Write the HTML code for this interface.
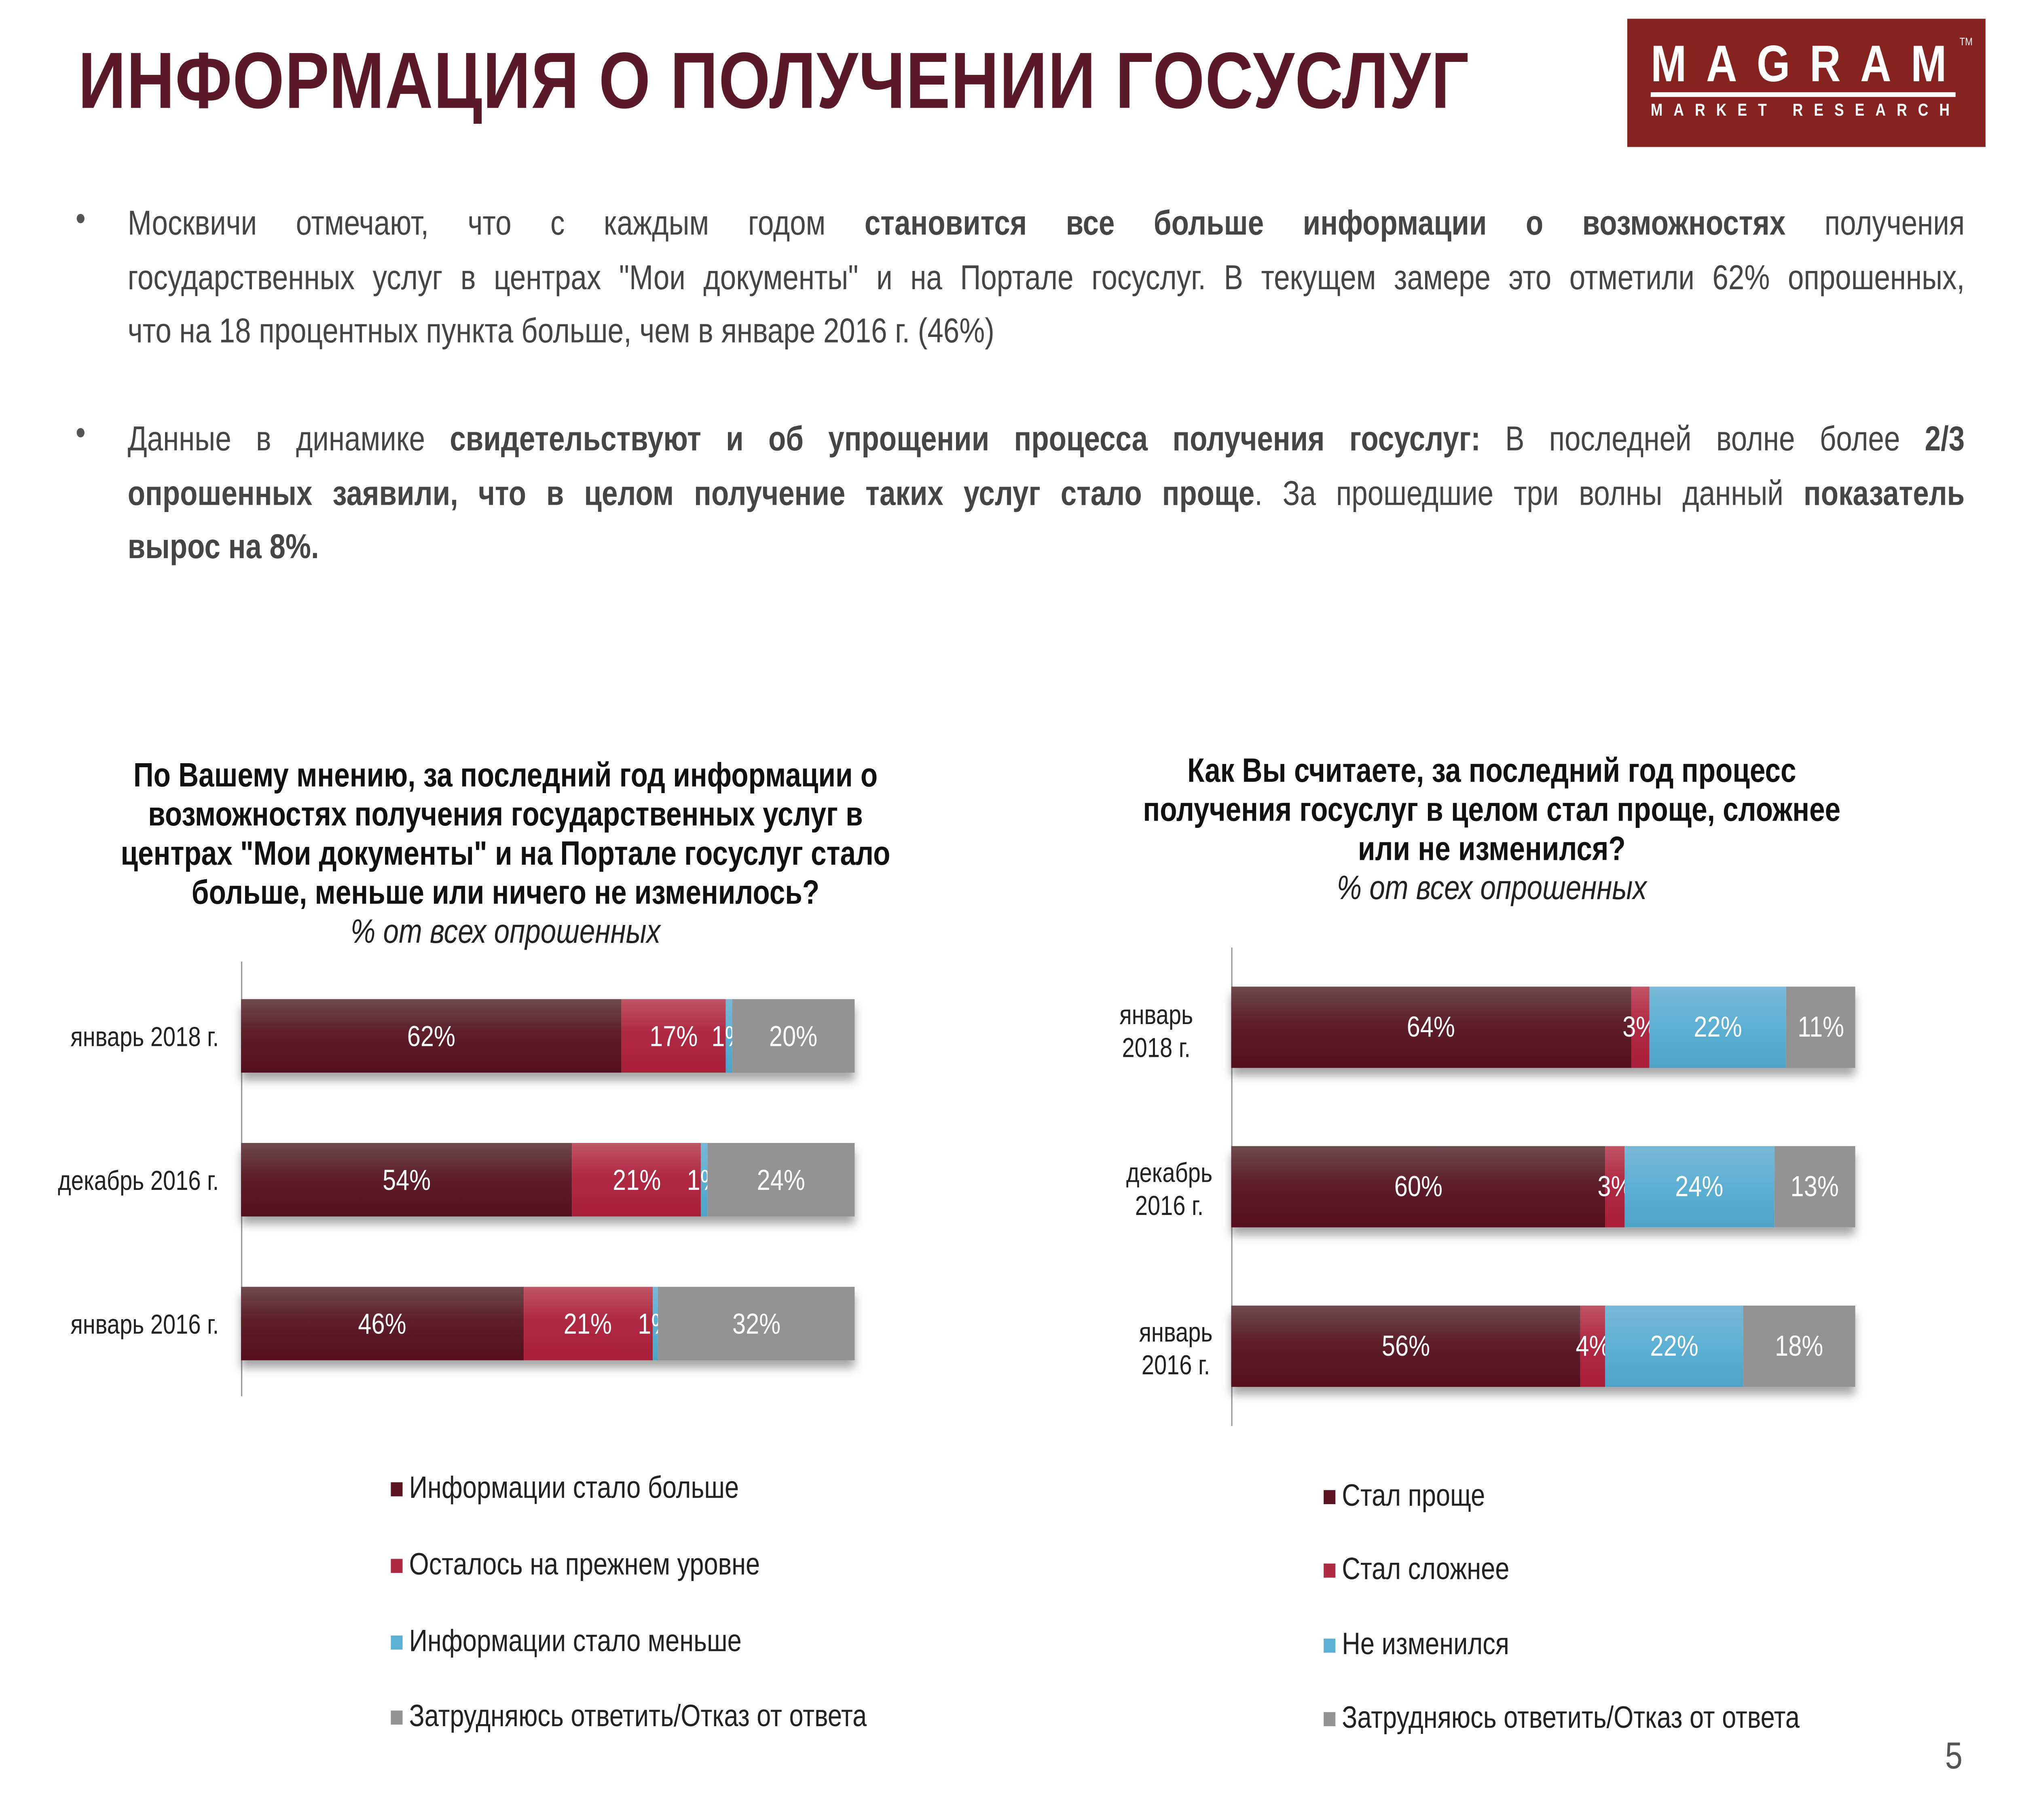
<!DOCTYPE html>
<html><head><meta charset="utf-8"><style>
html,body{margin:0;padding:0;background:#fff;overflow:hidden;}
#wrap{width:100vw;height:100vh;overflow:hidden;position:relative;}
#p{position:absolute;left:0;top:0;width:1552px;height:1164px;transform:scale(3.866);transform-origin:0 0;font-family:"Liberation Sans",Arial,sans-serif;}
.a{position:absolute;}
.title{left:60px;top:22px;font-size:51px;font-weight:bold;color:#5a1a2a;letter-spacing:0.5px;white-space:nowrap;}
.logo{left:1249px;top:12px;width:275px;height:82px;background:#86221f;color:#fff;}
.ln{left:98px;width:1410px;font-size:22px;line-height:34.5px;color:#454545;white-space:nowrap;}
.j{text-align:justify;text-align-last:justify;}
.bul{left:58px;font-size:22px;color:#555;}
.ct{font-size:21.5px;font-weight:bold;color:#111;text-align:center;line-height:25px;}
.ct i{font-weight:normal;color:#222;}
.bar{display:flex;box-shadow:0 5px 6px rgba(0,0,0,.35);}
.bar div{height:100%;display:flex;align-items:center;justify-content:center;color:#fff;font-size:18.5px;white-space:nowrap;overflow:visible;}
.m{background:linear-gradient(#6e4a4f,#5e1f2b 45%,#540f1e);}
.r{background:linear-gradient(#bf5565,#b02a42 45%,#a91e38);}
.b{background:linear-gradient(#78b8d6,#5cb0d3 50%,#4ea2c6);}
.g{background:#939393;}
.cat{font-size:17.4px;color:#222;}
.leg{font-size:19.6px;color:#222;white-space:nowrap;}
.leg span{display:inline-block;width:9px;height:9px;margin-right:5px;vertical-align:1px;}
.ax{background:#999;width:1px;}
</style></head><body><div id="wrap"><div id="p">
<div class="a title">ИНФОРМАЦИЯ О ПОЛУЧЕНИИ ГОСУСЛУГ</div>
<div class="a logo">
 <div class="a" style="left:18px;top:11px;font-size:33px;font-weight:bold;letter-spacing:15px;line-height:36px;white-space:nowrap;">MAGRAM</div>
 <div class="a" style="left:255px;top:12px;font-size:7px;">TM</div>
 <div class="a" style="left:18px;top:47px;width:234px;height:2.5px;background:#fff;"></div>
 <div class="a" style="left:18px;top:53px;font-size:11px;font-weight:bold;letter-spacing:8.4px;line-height:13px;white-space:nowrap;">MARKET RESEARCH</div>
</div>
<div class="a bul" style="top:127px;">•</div>
<div class="a ln j" style="top:126px;">Москвичи отмечают, что с каждым годом <b>становится все больше информации о возможностях</b> получения</div>
<div class="a ln j" style="top:160.5px;">государственных услуг в центрах "Мои документы" и на Портале госуслуг. В текущем замере это отметили 62% опрошенных,</div>
<div class="a ln" style="top:195px;">что на 18 процентных пункта больше, чем в январе 2016 г. (46%)</div>
<div class="a bul" style="top:264px;">•</div>
<div class="a ln j" style="top:264px;">Данные в динамике <b>свидетельствуют и об упрощении процесса получения госуслуг:</b> В последней волне более <b>2/3</b></div>
<div class="a ln j" style="top:298.5px;"><b>опрошенных заявили, что в целом получение таких услуг стало проще</b>. За прошедшие три волны данный <b>показатель</b></div>
<div class="a ln" style="top:333px;"><b>вырос на 8%.</b></div>

<div class="a ct" style="left:78px;width:620px;top:484px;">По Вашему мнению, за последний год информации о возможностях получения государственных услуг в центрах "Мои документы" и на Портале госуслуг стало больше, меньше или ничего не изменилось?<br><i>% от всех опрошенных</i></div>
<div class="a ct" style="left:860px;width:570px;top:481px;">Как Вы считаете, за последний год процесс получения госуслуг в целом стал проще, сложнее или не изменился?<br><i>% от всех опрошенных</i></div>

<div class="a ax" style="left:185px;top:615px;height:278px;"></div>
<div class="a cat" style="right:1384px;top:653px;white-space:nowrap;">январь 2018 г.</div>
<div class="a cat" style="right:1384px;top:745px;white-space:nowrap;">декабрь 2016 г.</div>
<div class="a cat" style="right:1384px;top:837px;white-space:nowrap;">январь 2016 г.</div>
<div class="a bar" style="left:185px;top:639px;width:471px;height:47px;"><div class="m" style="width:62%">62%</div><div class="r" style="width:17%">17%</div><div class="b" style="width:1%">1%</div><div class="g" style="width:20%">20%</div></div>
<div class="a bar" style="left:185px;top:731px;width:471px;height:47px;"><div class="m" style="width:54%">54%</div><div class="r" style="width:21%">21%</div><div class="b" style="width:1%">1%</div><div class="g" style="width:24%">24%</div></div>
<div class="a bar" style="left:185px;top:823px;width:471px;height:47px;"><div class="m" style="width:46%">46%</div><div class="r" style="width:21%">21%</div><div class="b" style="width:1%">1%</div><div class="g" style="width:32%">32%</div></div>

<div class="a ax" style="left:945px;top:606px;height:306px;"></div>
<div class="a cat" style="left:840px;width:95px;text-align:center;top:639px;line-height:21px;">январь<br>2018 г.</div>
<div class="a cat" style="left:850px;width:95px;text-align:center;top:740px;line-height:21px;">декабрь<br>2016 г.</div>
<div class="a cat" style="left:855px;width:95px;text-align:center;top:842px;line-height:21px;">январь<br>2016 г.</div>
<div class="a bar" style="left:945px;top:631px;width:479px;height:52px;"><div class="m" style="width:64%">64%</div><div class="r" style="width:3%">3%</div><div class="b" style="width:22%">22%</div><div class="g" style="width:11%">11%</div></div>
<div class="a bar" style="left:945px;top:733px;width:479px;height:52px;"><div class="m" style="width:60%">60%</div><div class="r" style="width:3%">3%</div><div class="b" style="width:24%">24%</div><div class="g" style="width:13%">13%</div></div>
<div class="a bar" style="left:945px;top:835px;width:479px;height:52px;"><div class="m" style="width:56%">56%</div><div class="r" style="width:4%">4%</div><div class="b" style="width:22%">22%</div><div class="g" style="width:18%">18%</div></div>

<div class="a leg" style="left:300px;top:941px;"><span style="background:#5a1424"></span>Информации стало больше</div>
<div class="a leg" style="left:300px;top:990px;"><span style="background:#b02a42"></span>Осталось на прежнем уровне</div>
<div class="a leg" style="left:300px;top:1039px;"><span style="background:#5cb0d3"></span>Информации стало меньше</div>
<div class="a leg" style="left:300px;top:1087px;"><span style="background:#939393"></span>Затрудняюсь ответить/Отказ от ответа</div>

<div class="a leg" style="left:1016px;top:946px;"><span style="background:#5a1424"></span>Стал проще</div>
<div class="a leg" style="left:1016px;top:993px;"><span style="background:#b02a42"></span>Стал сложнее</div>
<div class="a leg" style="left:1016px;top:1041px;"><span style="background:#5cb0d3"></span>Не изменился</div>
<div class="a leg" style="left:1016px;top:1088px;"><span style="background:#939393"></span>Затрудняюсь ответить/Отказ от ответа</div>

<div class="a" style="left:1493px;top:1110px;font-size:24px;color:#555;">5</div>
</div></div>
<script>
(function(){var p=document.getElementById('p');function f(){var w=document.documentElement.clientWidth||window.innerWidth;var h=document.documentElement.clientHeight||window.innerHeight;var sx=w/1552,sy=h/1164;p.style.transform='scale('+sx+','+sy+')';}f();window.addEventListener('resize',f);})();
</script>
</body></html>
